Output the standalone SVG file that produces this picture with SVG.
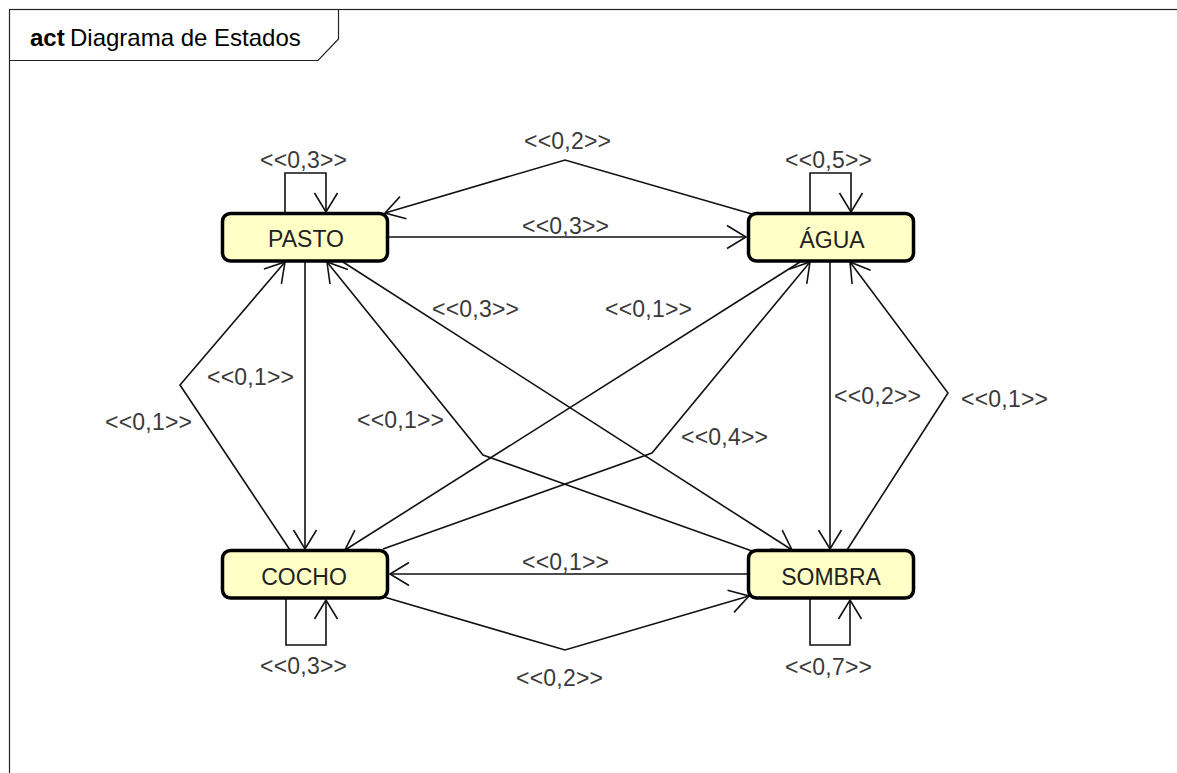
<svg xmlns="http://www.w3.org/2000/svg" width="1177" height="773" viewBox="0 0 1177 773">
<style>
.node rect{fill:#FFFFC6;stroke:#000;stroke-width:3.5}
.node text{font-family:"Liberation Sans",Arial,sans-serif;font-size:23px;fill:#222;text-anchor:middle}
.lbl{font-family:"Liberation Sans",Arial,sans-serif;font-size:23px;fill:#3a3a3a}
#connectors path{fill:none;stroke:#111;stroke-width:1.6;marker-end:url(#arr)}
#connectors path.nolabel{}
</style>
<defs>
<marker id="arr" markerUnits="userSpaceOnUse" viewBox="-22 -14 24 28" refX="0" refY="0" markerWidth="24" markerHeight="28" orient="auto" overflow="visible">
<path d="M-19,-11.5 L0,0 L-19,11.5" fill="none" stroke="#111" stroke-width="1.6"/>
</marker>
</defs>
<rect width="1177" height="773" fill="#fff"/>
<g id="frame">
<rect x="9.5" y="9.5" width="1200" height="800" fill="none" stroke="#222" stroke-width="1.2"/>
<path d="M9.5,9.5 L338.5,9.5 L338.5,39 L318,60.5 L9.5,60.5" fill="none" stroke="#222" stroke-width="1.2"/>
<text x="30" y="46" font-family="Liberation Sans,Arial,sans-serif" font-size="24" fill="#000"><tspan font-weight="bold">act</tspan><tspan x="70">Diagrama de Estados</tspan></text>
</g>
<g id="connectors">
<path d="M389,237 L746,237"/>
<path d="M752,214 L565,160 L385,213"/>
<path d="M747,574 L390,574"/>
<path d="M384,597 L565,650 L749,596"/>
<path d="M305,262 L305,549"/>
<path d="M290,550 L180,385 L285,262"/>
<path d="M830,262 L830,549"/>
<path d="M847,550 L948,393 L850,262"/>
<path d="M343,262 L792,550"/>
<path d="M752,551 L483,455 L327,262"/>
<path d="M800,262 L345,550"/>
<path d="M383,549 L652,453 L810,262"/>
<path d="M285,212 L285,173 L326,173 L326,212"/>
<path d="M810,212 L810,173 L851,173 L851,212"/>
<path d="M286,599 L286,645 L326,645 L326,600"/>
<path d="M810,599 L810,645 L850,645 L850,600"/>
</g>
<g id="labels">
<text class="lbl" x="260" y="168" textLength="87">&lt;&lt;0,3&gt;&gt;</text>
<text class="lbl" x="785" y="168" textLength="87">&lt;&lt;0,5&gt;&gt;</text>
<text class="lbl" x="524" y="149" textLength="87">&lt;&lt;0,2&gt;&gt;</text>
<text class="lbl" x="522" y="234" textLength="87">&lt;&lt;0,3&gt;&gt;</text>
<text class="lbl" x="432" y="317" textLength="87">&lt;&lt;0,3&gt;&gt;</text>
<text class="lbl" x="605" y="317" textLength="87">&lt;&lt;0,1&gt;&gt;</text>
<text class="lbl" x="207" y="385" textLength="87">&lt;&lt;0,1&gt;&gt;</text>
<text class="lbl" x="105" y="430" textLength="87">&lt;&lt;0,1&gt;&gt;</text>
<text class="lbl" x="357" y="428" textLength="87">&lt;&lt;0,1&gt;&gt;</text>
<text class="lbl" x="681" y="445" textLength="87">&lt;&lt;0,4&gt;&gt;</text>
<text class="lbl" x="834" y="404" textLength="87">&lt;&lt;0,2&gt;&gt;</text>
<text class="lbl" x="961" y="407" textLength="87">&lt;&lt;0,1&gt;&gt;</text>
<text class="lbl" x="522" y="570" textLength="87">&lt;&lt;0,1&gt;&gt;</text>
<text class="lbl" x="516" y="686" textLength="87">&lt;&lt;0,2&gt;&gt;</text>
<text class="lbl" x="260" y="674" textLength="87">&lt;&lt;0,3&gt;&gt;</text>
<text class="lbl" x="785" y="675" textLength="87">&lt;&lt;0,7&gt;&gt;</text>
</g>
<g id="node-pasto" class="node">
<rect x="222.5" y="213.5" width="165" height="47.5" rx="8"/>
<text x="306" y="247">PASTO</text>
</g>
<g id="node-agua" class="node">
<rect x="748.5" y="213.5" width="165" height="47.5" rx="8"/>
<text x="832" y="248">ÁGUA</text>
</g>
<g id="node-cocho" class="node">
<rect x="222.5" y="550.5" width="165" height="47.5" rx="8"/>
<text x="304" y="585">COCHO</text>
</g>
<g id="node-sombra" class="node">
<rect x="748.5" y="550.5" width="165" height="47.5" rx="8"/>
<text x="831" y="585">SOMBRA</text>
</g>
</svg>
